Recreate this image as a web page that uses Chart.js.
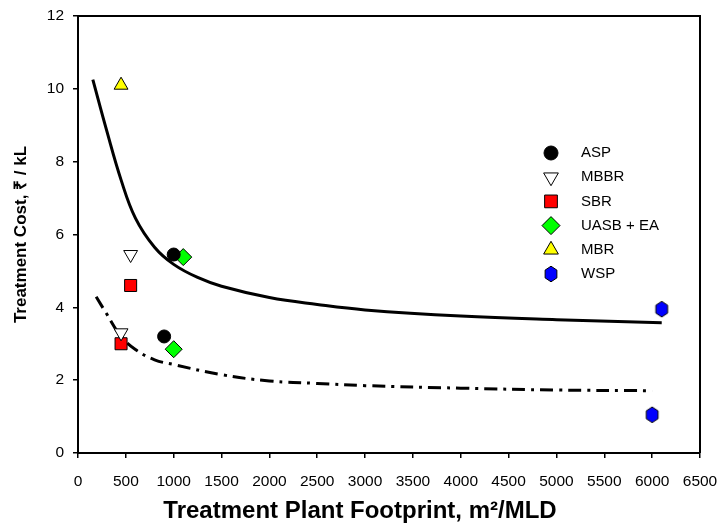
<!DOCTYPE html>
<html>
<head>
    <title>Treatment Cost vs Footprint</title>
    <script src="https://cdn.jsdelivr.net/npm/chart.js"></script>
    <style>
        body { margin: 0; background: #fff; }
        #wrap { width: 719px; height: 525px; }
    </style>
</head>
<body>
<div id="wrap"><canvas id="costChart" width="719" height="525"></canvas></div>
<script>
// measured points (footprint m2/MLD, cost Rs/kL)
const aspX = [1000, 900],   aspY = [5.45, 3.2];
const mbbrX = [550, 450],   mbbrY = [5.45, 3.3];
const sbrX = [550, 450],    sbrY = [4.6, 3.0];
const uasbX = [1100, 1000], uasbY = [5.38, 2.85];
const mbrX = [450],         mbrY = [10.1];
const wspX = [6100, 6000],  wspY = [3.95, 1.05];

// fitted curves
const upperX = [155, 300, 450, 600, 800, 1000, 1250, 1500, 2000, 2500, 3000, 4000, 5000, 6100];
const upperY = [10.25, 8.85, 7.5, 6.45, 5.65, 5.18, 4.82, 4.58, 4.27, 4.08, 3.93, 3.76, 3.66, 3.58];
const lowerX = [190, 290, 450, 600, 800, 1000, 1500, 2000, 2500, 3000, 4000, 5000, 6000];
const lowerY = [4.29, 3.86, 3.2, 2.84, 2.56, 2.43, 2.15, 1.98, 1.91, 1.85, 1.78, 1.73, 1.71];

const xTicks = [0, 500, 1000, 1500, 2000, 2500, 3000, 3500, 4000, 4500, 5000, 5500, 6000, 6500];
const yTicks = [0, 2, 4, 6, 8, 10, 12];

const FONT = "'Liberation Sans', Arial, sans-serif";

function pts(xs, ys) {
    return xs.map(function (x, i) { return { x: x, y: ys[i] }; });
}

// hexagon marker (no built-in style for it)
function hexagon() {
    var c = document.createElement('canvas');
    c.width = 16; c.height = 18;
    var g = c.getContext('2d');
    g.beginPath();
    for (var i = 0; i < 6; i++) {
        var a = Math.PI / 2 + i * Math.PI / 3;
        g.lineTo(8 + 6.8 * Math.cos(a), 9 + 7.8 * Math.sin(a));
    }
    g.closePath();
    g.fillStyle = '#0000ff';
    g.fill();
    g.strokeStyle = '#000';
    g.lineWidth = 1;
    g.stroke();
    return c;
}

function marker(label, xs, ys, style, fill, radius, rotation) {
    return {
        label: label,
        data: pts(xs, ys),
        pointStyle: style,
        pointRadius: radius,
        pointHoverRadius: radius,
        pointRotation: rotation || 0,
        backgroundColor: fill,
        borderColor: '#000',
        pointBorderWidth: 1,
        showLine: false
    };
}

const datasets = [
    marker('ASP', aspX, aspY, 'circle', '#000', 6.5),
    marker('MBBR', mbbrX, mbbrY, 'triangle', '#fff', 8, 180),
    marker('SBR', sbrX, sbrY, 'rect', '#ff0000', 8.5),
    marker('UASB + EA', uasbX, uasbY, 'rectRot', '#00ff00', 8.5),
    marker('MBR', mbrX, mbrY, 'triangle', '#ffff00', 8),
    marker('WSP', wspX, wspY, hexagon(), '#0000ff', 8),
    {
        label: 'upper', data: pts(upperX, upperY), showLine: true, pointRadius: 0,
        borderColor: '#000', borderWidth: 3, tension: 0.4, fill: false
    },
    {
        label: 'lower', data: pts(lowerX, lowerY), showLine: true, pointRadius: 0,
        borderColor: '#000', borderWidth: 3, borderDash: [13, 6, 3, 6], tension: 0.4, fill: false
    }
];

// box around plot, legend inside plot area, x title
const framePlugin = {
    id: 'frame',
    afterDraw: function (chart) {
        var ctx = chart.ctx, a = chart.chartArea;
        ctx.save();
        ctx.strokeStyle = '#000';
        ctx.lineWidth = 2;
        ctx.beginPath();
        ctx.moveTo(a.left, a.top); ctx.lineTo(a.right, a.top); ctx.lineTo(a.right, a.bottom);
        ctx.stroke();

        var n = 0;
        ctx.font = '15px ' + FONT;
        ctx.textBaseline = 'middle';
        chart.data.datasets.forEach(function (ds) {
            if (ds.showLine) return;
            var y = 153 + n * 24.2;
            ctx.fillStyle = ds.backgroundColor;
            ctx.strokeStyle = '#000';
            ctx.lineWidth = 1;
            Chart.helpers.drawPoint(ctx, {
                pointStyle: ds.pointStyle, radius: ds.pointRadius + 0.5,
                rotation: ds.pointRotation, borderWidth: 1
            }, 551, y);
            ctx.fillStyle = '#000';
            ctx.fillText(ds.label, 581, y);
            n++;
        });

        ctx.font = 'bold 24px ' + FONT;
        ctx.textAlign = 'center';
        ctx.textBaseline = 'alphabetic';
        ctx.fillText('Treatment Plant Footprint, m\u00b2/MLD', 360, 518);
        ctx.restore();
    }
};

new Chart(document.getElementById('costChart').getContext('2d'), {
    type: 'scatter',
    data: { datasets: datasets },
    plugins: [framePlugin],
    options: {
        responsive: false,
        animation: false,
        layout: { padding: { top: 16, right: 19, left: 0, bottom: 0 } },
        plugins: { legend: { display: false }, tooltip: { enabled: false } },
        scales: {
            x: {
                type: 'linear', min: 0, max: 6500,
                afterBuildTicks: function (s) { s.ticks = xTicks.map(function (v) { return { value: v }; }); },
                afterFit: function (s) { s.height = 72; s.paddingLeft = 0; s.paddingRight = 0; },
                grid: { drawOnChartArea: false, color: '#000', tickLength: 5, lineWidth: 1.5 },
                border: { color: '#000', width: 2 },
                ticks: {
                    color: '#000', font: { family: FONT, size: 15.5 }, padding: 14, maxRotation: 0, autoSkip: false,
                    callback: function (v) { return String(v); }
                }
            },
            y: {
                type: 'linear', min: 0, max: 12,
                afterBuildTicks: function (s) { s.ticks = yTicks.map(function (v) { return { value: v }; }); },
                afterFit: function (s) { s.width = 78; s.paddingTop = 0; s.paddingBottom = 0; },
                grid: { drawOnChartArea: false, color: '#000', tickLength: 5, lineWidth: 1.5 },
                border: { color: '#000', width: 2 },
                ticks: { color: '#000', font: { family: FONT, size: 15.5 }, padding: 9 },
                title: {
                    display: true, text: 'Treatment Cost, \u20b9 / kL', color: '#000',
                    font: { family: FONT, size: 17, weight: 'bold' }, padding: { top: 11, bottom: 0 }
                }
            }
        }
    }
});
</script>
</body>
</html>
